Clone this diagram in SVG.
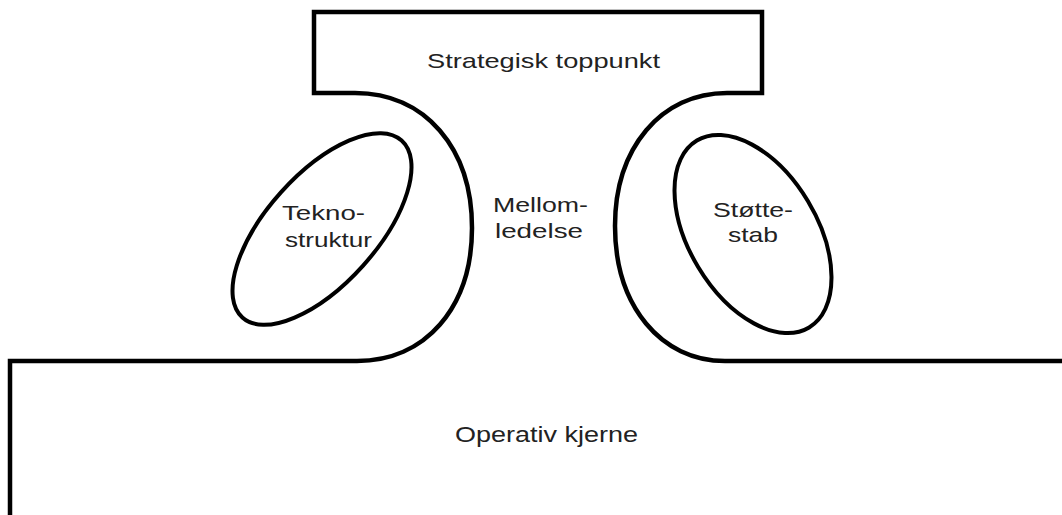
<svg xmlns="http://www.w3.org/2000/svg" width="1062" height="515" viewBox="0 0 1062 515">
  <style>
    .line { fill: none; stroke: #000; stroke-width: 4.5; stroke-linejoin: miter; }
    .oval { fill: none; stroke: #000; stroke-width: 4; }
    .label { font-family: "Liberation Sans", Arial, sans-serif; font-size: 21px; fill: #222; }
  </style>
  <rect width="1062" height="515" fill="#fff"/>

  <!-- Organisation outline: operating core, left bulge, strategic apex, right bulge -->
  <g id="outline">
    <path class="line" d="M 10 520 L 10 361 L 357 361 C 425 361 472 308 472 228 C 472 148 425 93 355 93 L 314 93 L 314 12 L 762 12 L 762 93 L 727 93 C 661 93 615 148 615 226 C 615 306 661 361 725 361 L 1070 361"/>
  </g>

  <!-- Strategic apex -->
  <g id="strategisk-toppunkt">
    <text class="label" x="427" y="68" textLength="233" lengthAdjust="spacingAndGlyphs">Strategisk toppunkt</text>
  </g>

  <!-- Technostructure -->
  <g id="teknostruktur">
    <ellipse class="oval" cx="322" cy="229" rx="119" ry="55" transform="rotate(-48 322 229)"/>
    <text class="label" x="282" y="220" textLength="83" lengthAdjust="spacingAndGlyphs">Tekno-</text>
    <text class="label" x="285" y="247" textLength="87" lengthAdjust="spacingAndGlyphs">struktur</text>
  </g>

  <!-- Middle line -->
  <g id="mellomledelse">
    <text class="label" x="493" y="212" textLength="95" lengthAdjust="spacingAndGlyphs">Mellom-</text>
    <text class="label" x="495" y="238" textLength="88" lengthAdjust="spacingAndGlyphs">ledelse</text>
  </g>

  <!-- Support staff -->
  <g id="stottestab">
    <ellipse class="oval" cx="753" cy="234" rx="64" ry="109" transform="rotate(-31 753 234)"/>
    <text class="label" x="713" y="217" textLength="80" lengthAdjust="spacingAndGlyphs">Støtte-</text>
    <text class="label" x="728" y="242" textLength="50" lengthAdjust="spacingAndGlyphs">stab</text>
  </g>

  <!-- Operating core -->
  <g id="operativ-kjerne">
    <text class="label" x="455" y="442" textLength="183" lengthAdjust="spacingAndGlyphs" style="font-size:22px">Operativ kjerne</text>
  </g>

  <g id="connectors"/>
</svg>
